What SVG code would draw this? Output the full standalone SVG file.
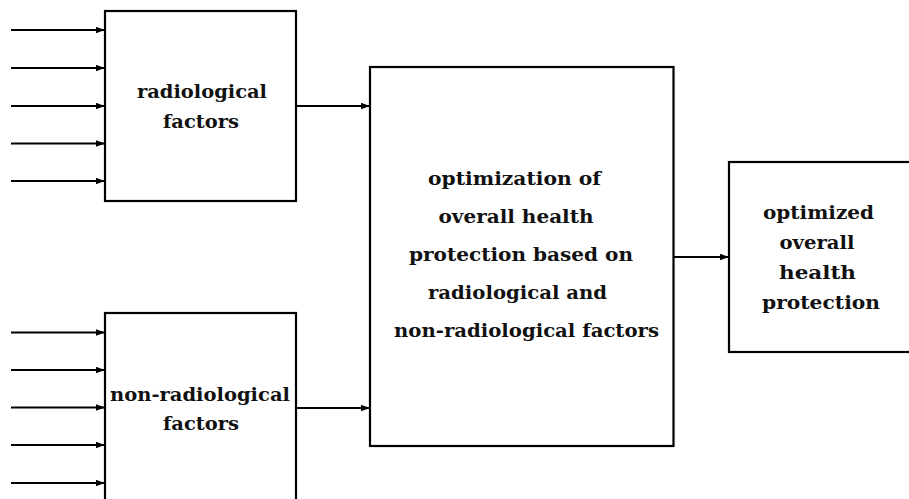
<svg xmlns="http://www.w3.org/2000/svg" width="909" height="499" viewBox="0 0 909 499">
<style>
.box{fill:#fff;stroke:#000;stroke-width:2.2}
.ln{stroke:#000;stroke-width:1.8;fill:none;marker-end:url(#ah)}
.t{font-family:"DejaVu Serif","Liberation Serif",serif;font-weight:bold;font-size:18.5px;fill:#111}
</style>
<defs>
<marker id="ah" markerUnits="userSpaceOnUse" markerWidth="10" markerHeight="8" refX="9" refY="3.5" orient="auto">
<path d="M0,0.3 L9,3.5 L0,6.7 Z" fill="#000"/>
</marker>
</defs>
<rect width="909" height="499" fill="#fff"/>
<g id="connectors">
<line class="ln" x1="11" y1="30" x2="105" y2="30"/>
<line class="ln" x1="11" y1="68" x2="105" y2="68"/>
<line class="ln" x1="11" y1="106" x2="105" y2="106"/>
<line class="ln" x1="11" y1="143.5" x2="105" y2="143.5"/>
<line class="ln" x1="11" y1="181" x2="105" y2="181"/>
<line class="ln" x1="11" y1="332.5" x2="105" y2="332.5"/>
<line class="ln" x1="11" y1="370" x2="105" y2="370"/>
<line class="ln" x1="11" y1="407.5" x2="105" y2="407.5"/>
<line class="ln" x1="11" y1="445" x2="105" y2="445"/>
<line class="ln" x1="11" y1="483" x2="105" y2="483"/>
<line class="ln" x1="296" y1="106" x2="370" y2="106"/>
<line class="ln" x1="296" y1="408" x2="370" y2="408"/>
<line class="ln" x1="674" y1="257" x2="729" y2="257"/>
</g>
<g id="radiological">
<rect class="box" x="105" y="11" width="191" height="190"/>
<text class="t" x="137" y="98" textLength="130" lengthAdjust="spacingAndGlyphs">radiological</text>
<text class="t" x="163" y="128" textLength="76" lengthAdjust="spacingAndGlyphs">factors</text>
</g>
<g id="nonradiological">
<rect class="box" x="105" y="313" width="191" height="192"/>
<text class="t" x="110" y="401" textLength="180" lengthAdjust="spacingAndGlyphs">non-radiological</text>
<text class="t" x="163" y="430" textLength="76" lengthAdjust="spacingAndGlyphs">factors</text>
</g>
<g id="optimization">
<rect class="box" x="370" y="67" width="303.5" height="379"/>
<text class="t" x="428" y="185" textLength="173" lengthAdjust="spacingAndGlyphs">optimization of</text>
<text class="t" x="438.5" y="223" textLength="155" lengthAdjust="spacingAndGlyphs">overall health</text>
<text class="t" x="409" y="261" textLength="224" lengthAdjust="spacingAndGlyphs">protection based on</text>
<text class="t" x="428" y="299" textLength="179" lengthAdjust="spacingAndGlyphs">radiological and</text>
<text class="t" x="394" y="337" textLength="265" lengthAdjust="spacingAndGlyphs">non-radiological factors</text>
</g>
<g id="optimized">
<rect class="box" x="729" y="162" width="190" height="190"/>
<text class="t" x="763" y="219" textLength="111" lengthAdjust="spacingAndGlyphs">optimized</text>
<text class="t" x="779.5" y="249" textLength="75" lengthAdjust="spacingAndGlyphs">overall</text>
<text class="t" x="779" y="279" textLength="77" lengthAdjust="spacingAndGlyphs">health</text>
<text class="t" x="762" y="309" textLength="118" lengthAdjust="spacingAndGlyphs">protection</text>
</g>
</svg>
